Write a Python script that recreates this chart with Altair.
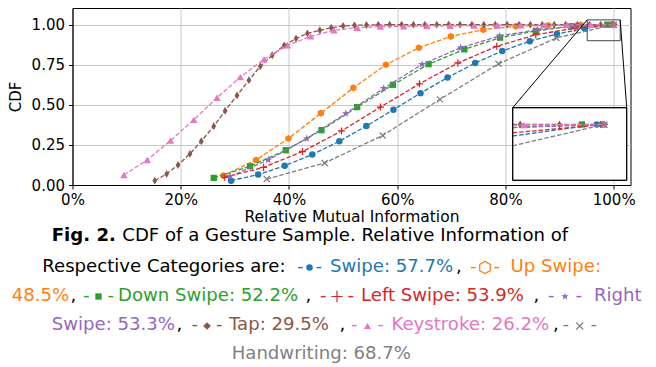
import altair as alt
import pandas as pd

# ---------------- data ----------------
names = ["Swipe", "Up Swipe", "Down Swipe", "Left Swipe", "Right Swipe",
         "Tap", "Keystroke", "Handwriting"]
colors = ["#1f77b4", "#ff7f0e", "#2ca02c", "#d62728", "#9467bd",
          "#8c564b", "#e377c2", "#7f7f7f"]

# x in percent of relative mutual information, y = CDF
swipe_x = [29.3, 34.3, 39.2, 44.3, 49.3, 54.3, 59.3, 64.3, 69.3, 74.4, 79.4, 84.5, 89.5, 94.6, 99.6]
swipe_y = [0.027, 0.065, 0.120, 0.190, 0.273, 0.368, 0.470, 0.573, 0.670, 0.761, 0.836, 0.897, 0.942, 0.977, 1.000]

up_x = [27.9, 33.9, 39.9, 45.9, 51.9, 57.9, 64.0, 69.9, 75.9, 81.9, 87.9, 93.9, 99.9]
up_y = [0.059, 0.156, 0.290, 0.448, 0.606, 0.750, 0.856, 0.927, 0.969, 0.990, 0.996, 0.999, 1.000]

down_x = [26.1, 32.8, 39.4, 46.0, 52.6, 59.2, 65.8, 72.4, 79.0, 85.6, 92.2, 98.8]
down_y = [0.044, 0.117, 0.217, 0.342, 0.486, 0.625, 0.754, 0.846, 0.919, 0.961, 0.990, 1.000]

left_x = [28.1, 35.3, 42.5, 49.7, 56.9, 64.1, 71.2, 78.4, 85.6, 92.8, 100.0]
left_y = [0.048, 0.110, 0.209, 0.337, 0.486, 0.631, 0.761, 0.865, 0.9375, 0.978, 1.000]

right_x = [29.1, 36.2, 43.3, 50.5, 57.5, 64.6, 71.7, 78.9, 85.9, 93.0, 100.0]
right_y = [0.054, 0.157, 0.290, 0.446, 0.603, 0.752, 0.856, 0.929, 0.969, 0.992, 1.000]

tap_x = [15.2, 17.4, 19.5, 21.7, 23.8, 26.1, 28.2, 30.4, 32.6, 34.7,
         36.9, 39.1, 41.3, 43.4, 45.7, 47.8, 50.0, 52.1, 54.3, 56.5,
         58.6, 60.8, 63.0, 65.1, 67.3, 69.5, 71.6, 73.8, 76.0, 78.1,
         80.3, 82.5, 84.6, 86.8, 89.0, 91.1, 93.3, 95.5, 97.6, 99.8]
tap_y = [0.027, 0.069, 0.125, 0.194, 0.273, 0.367, 0.463, 0.559, 0.654, 0.740,
         0.809, 0.871, 0.913, 0.946, 0.965, 0.981, 0.992, 0.996, 0.998, 0.999,
         1.000, 1.000, 1.000, 1.000, 1.000, 1.000, 1.000, 1.000, 1.000, 1.000,
         1.000, 1.000, 1.000, 1.000, 1.000, 1.000, 1.000, 1.000, 1.000, 1.000]

key_x = [9.5, 13.8, 18.1, 22.4, 26.7, 31.0, 35.4, 39.7, 44.0, 48.3, 52.6,
         56.9, 61.2, 65.5, 69.8, 74.2, 78.5, 82.8, 87.1, 91.4, 95.7, 100.0]
key_y = [0.0625, 0.156, 0.277, 0.406, 0.544, 0.673, 0.784, 0.871, 0.927, 0.965, 0.981,
         0.988, 0.990, 0.992, 0.993, 0.994, 0.995, 0.996, 0.997, 0.998, 0.999, 1.000]

hand_x = [35.9, 46.6, 57.3, 67.9, 78.7, 89.4, 100.0]
hand_y = [0.0375, 0.1375, 0.309, 0.534, 0.756, 0.917, 1.000]

series_x = [swipe_x, up_x, down_x, left_x, right_x, tap_x, key_x, hand_x]
series_y = [swipe_y, up_y, down_y, left_y, right_y, tap_y, key_y, hand_y]

x_ticks = [0, 0.2, 0.4, 0.6, 0.8, 1.0]
y_ticks = [0, 0.25, 0.5, 0.75, 1.0]

# zoomed region shown in the inset
inset_x = [0.951, 1.012]
inset_y = [0.90, 1.03]

caption_title = "Fig. 2."
caption_line1 = "CDF of a Gesture Sample. Relative Information of"
caption_intro = "Respective Categories are:"
caption_values = ["57.7%", "48.5%", "52.2%", "53.9%", "53.3%", "29.5%", "26.2%", "68.7%"]

# ---------------- styles / layout ----------------
HEX = "M0,-1L0.866,-0.5L0.866,0.5L0,1L-0.866,0.5L-0.866,-0.5Z"
PLUS = "M-1,0L1,0M0,-1L0,1"
XS = "M-1,-1L1,1M-1,1L1,-1"
STAR = ("M0,-1L0.2245,-0.309L0.951,-0.309L0.363,0.118L0.588,0.809L0,0.382"
        "L-0.588,0.809L-0.363,0.118L-0.951,-0.309L-0.2245,-0.309Z")
TDIA = "M0,-1L0.6,0L0,1L-0.6,0Z"
DIA = "M0,-1L1,0L0,1L-1,0Z"

# (shape, size, filled, strokeWidth)
plot_markers = [("circle", 42, True, 0.5), (HEX, 52, True, 0.5), ("square", 40, True, 0.5),
                (PLUS, 50, False, 1.3), (STAR, 72, True, 0.5), (TDIA, 62, True, 0.5),
                ("triangle-up", 55, True, 0.5), (XS, 36, False, 1.2)]
cap_markers = [("circle", 42, True, 0.5), (HEX, 150, False, 1.2), ("square", 40, True, 0.5),
               (PLUS, 130, False, 1.2), (STAR, 64, True, 0.5), (DIA, 60, True, 0.5),
               ("triangle-up", 52, True, 0.5), (XS, 49, False, 1.1)]

W, H = 558, 177
OX, OY = 72.5, 6.0   # page position of the plot area in the reference


def px(x):
    return x - OX


def py(y):
    return y - OY


one = pd.DataFrame({"k": [0]})

xs = alt.Scale(domain=[0, 1.031], nice=False, zero=False)
ys = alt.Scale(domain=[0, 1.104], nice=False, zero=False)
xaxis = alt.Axis(values=x_ticks, format=".0%", grid=True, gridColor="#c8c8c8",
                 tickSize=4, labelPadding=3, titlePadding=2, labelFlush=False,
                 labelFontSize=15, titleFontSize=15.5)
yaxis = alt.Axis(values=y_ticks, format=".2f", grid=True, gridColor="#c8c8c8",
                 tickSize=4, labelPadding=4, titlePadding=8, labelFlush=False,
                 labelFontSize=15, titleFontSize=15)
XT = "Relative Mutual Information"
YT = "CDF"


def X(f):
    return alt.X(f, scale=xs, axis=xaxis, title=XT)


def Y(f):
    return alt.Y(f, scale=ys, axis=yaxis, title=YT)


frames = []
for i in range(8):
    frames.append(pd.DataFrame({"series": names[i],
                                "x": [v / 100 for v in series_x[i]],
                                "y": series_y[i]}))

main_layers = []
for i in range(8):
    c = colors[i]
    shp, sz, fl, sw = plot_markers[i]
    main_layers.append(alt.Chart(frames[i]).mark_line(
        color=c, strokeWidth=1.3, strokeDash=[4.5, 2]).encode(x=X("x:Q"), y=Y("y:Q")))
    main_layers.append(alt.Chart(frames[i]).mark_point(
        shape=shp, size=sz, filled=fl, color=c, opacity=1, strokeWidth=sw
    ).encode(x=X("x:Q"), y=Y("y:Q")))

# indicator box on the main axes
box_df = pd.DataFrame({"x0": [inset_x[0]], "x1": [inset_x[1]], "y0": [inset_y[0]], "y1": [inset_y[1]]})
main_layers.append(alt.Chart(box_df).mark_rect(
    fillOpacity=0, stroke="#444444", strokeWidth=1
).encode(x=X("x0:Q"), x2="x1:Q", y=Y("y0:Q"), y2="y1:Q"))

# inset placement (pixels)
IL, IR, IT, IB = px(512.7), px(626.7), py(105.7), py(178.3)
BL, BR, BT = px(587.2), px(620.2), py(17.9)
for (ax, ay, bx, by) in [(BL, BT, IL, IT), (BR, BT, IR, IT)]:
    main_layers.append(alt.Chart(one).mark_rule(color="black", strokeWidth=1).encode(
        x=alt.value(ax), y=alt.value(ay), x2=alt.value(bx), y2=alt.value(by)))

# ---------------- caption ----------------
FONT = "DejaVu Sans"
FS = 18.1
L1, L2, L3, L4, L5 = 234, 264.5, 293.5, 323, 352


def text_layer(t, x, y, color="black", bold=False):
    return alt.Chart(one).mark_text(
        text=t, align="left", baseline="middle", font=FONT, fontSize=FS,
        fontWeight="bold" if bold else "normal", color=color
    ).encode(x=alt.value(px(x)), y=alt.value(py(y)))


def symbol_layers(i, x0, x1, y):
    c = colors[i]
    shp, sz, fl, sw = cap_markers[i]
    out = [
        alt.Chart(one).mark_text(text="-", align="left", baseline="middle", font=FONT,
                                 fontSize=FS, color=c).encode(x=alt.value(px(x0)), y=alt.value(py(y))),
        alt.Chart(one).mark_text(text="-", align="right", baseline="middle", font=FONT,
                                 fontSize=FS, color=c).encode(x=alt.value(px(x1)), y=alt.value(py(y))),
        alt.Chart(one).mark_point(shape=shp, size=sz, filled=fl, color=c, opacity=1,
                                  strokeWidth=sw).encode(x=alt.value(px((x0 + x1) / 2)),
                                                         y=alt.value(py(y + 1))),
    ]
    return out


cap = []
cap.append(text_layer(caption_title, 51.7, L1, bold=True))
cap.append(text_layer(caption_line1, 122.3, L1))
cap.append(text_layer(caption_intro, 42.3, L2))
cap += symbol_layers(0, 297, 322, L2)
cap.append(text_layer(names[0] + ": " + caption_values[0], 330, L2, colors[0]))
cap.append(text_layer(",", 456, L2))
cap += symbol_layers(1, 470, 500, L2)
cap.append(text_layer("Up Swipe:", 510.5, L2, colors[1]))
cap.append(text_layer(caption_values[1], 11.7, L3, colors[1]))
cap.append(text_layer(",", 70.5, L3))
cap += symbol_layers(2, 83, 114, L3)
cap.append(text_layer(names[2] + ": " + caption_values[2], 118, L3, colors[2]))
cap.append(text_layer(",", 305.5, L3))
cap += symbol_layers(3, 320, 354, L3)
cap.append(text_layer(names[3] + ": " + caption_values[3], 361, L3, colors[3]))
cap.append(text_layer(",", 533.5, L3))
cap += symbol_layers(4, 548, 582, L3)
cap.append(text_layer("Right", 594, L3, colors[4]))
cap.append(text_layer("Swipe: " + caption_values[4], 51.7, L4, colors[4]))
cap.append(text_layer(",", 176.5, L4))
cap += symbol_layers(5, 191.5, 222.5, L4)
cap.append(text_layer(names[5] + ": " + caption_values[5], 229, L4, colors[5]))
cap.append(text_layer(",", 339.5, L4))
cap += symbol_layers(6, 351, 384, L4)
cap.append(text_layer(names[6] + ": " + caption_values[6], 391.5, L4, colors[6]))
cap.append(text_layer(",", 553, L4))
cap += symbol_layers(7, 562.5, 597, L4)
cap.append(text_layer(names[7] + ": " + caption_values[7], 231.7, L5, colors[7]))

main = alt.layer(*(main_layers + cap))

# ---------------- inset ----------------
ixs = alt.Scale(domain=inset_x, range=[IL, IR], nice=False, zero=False)
iys = alt.Scale(domain=inset_y, range=[IB, IT], nice=False, zero=False)
X0 = inset_x[0]

inset_layers = [alt.Chart(one).mark_rect(fill="white", stroke="black", strokeWidth=1).encode(
    x=alt.value(IL), x2=alt.value(IR), y=alt.value(IT), y2=alt.value(IB))]
for i in range(8):
    c = colors[i]
    shp, sz, fl, sw = plot_markers[i]
    base = alt.Chart(frames[i]).transform_window(
        window=[{"op": "lead", "field": "x", "as": "nx"},
                {"op": "lead", "field": "y", "as": "ny"}],
        sort=[{"field": "x", "order": "ascending"}],
        frame=[None, None],
    ).transform_filter(
        f"datum.x >= {X0} || (datum.nx != null && datum.nx >= {X0})"
    ).transform_calculate(
        xc=f"datum.x < {X0} ? {X0} : datum.x",
        yc=f"datum.x < {X0} ? datum.y + (datum.ny - datum.y) * ({X0} - datum.x) / (datum.nx - datum.x) : datum.y",
    )
    inset_layers.append(base.mark_line(color=c, strokeWidth=1.3, strokeDash=[4.5, 2]).encode(
        x=alt.X("xc:Q", scale=ixs, axis=None), y=alt.Y("yc:Q", scale=iys, axis=None)))
    inset_layers.append(alt.Chart(frames[i]).transform_filter(f"datum.x >= {X0}").mark_point(
        shape=shp, size=sz, filled=fl, color=c, opacity=1, strokeWidth=sw
    ).encode(x=alt.X("x:Q", scale=ixs, axis=None), y=alt.Y("y:Q", scale=iys, axis=None)))
inset_layers.append(alt.Chart(one).mark_rect(fillOpacity=0, stroke="black", strokeWidth=1).encode(
    x=alt.value(IL), x2=alt.value(IR), y=alt.value(IT), y2=alt.value(IB)))

inset = alt.layer(*inset_layers)

chart = alt.layer(main, inset).resolve_scale(
    x="independent", y="independent"
).properties(
    width=W, height=H,
    autosize=alt.AutoSizeParams(type="none"),
    padding={"left": 64.5, "top": 0, "right": 17.5, "bottom": 180},
).configure_view(
    stroke="black", strokeWidth=1
).configure_axis(
    labelFont="DejaVu Sans", titleFont="DejaVu Sans", labelColor="black", titleColor="black",
    tickColor="black", domainColor="black", titleFontWeight="normal", gridWidth=1,
)

chart.save("out.html", embed_options={"renderer": "svg", "actions": False})
